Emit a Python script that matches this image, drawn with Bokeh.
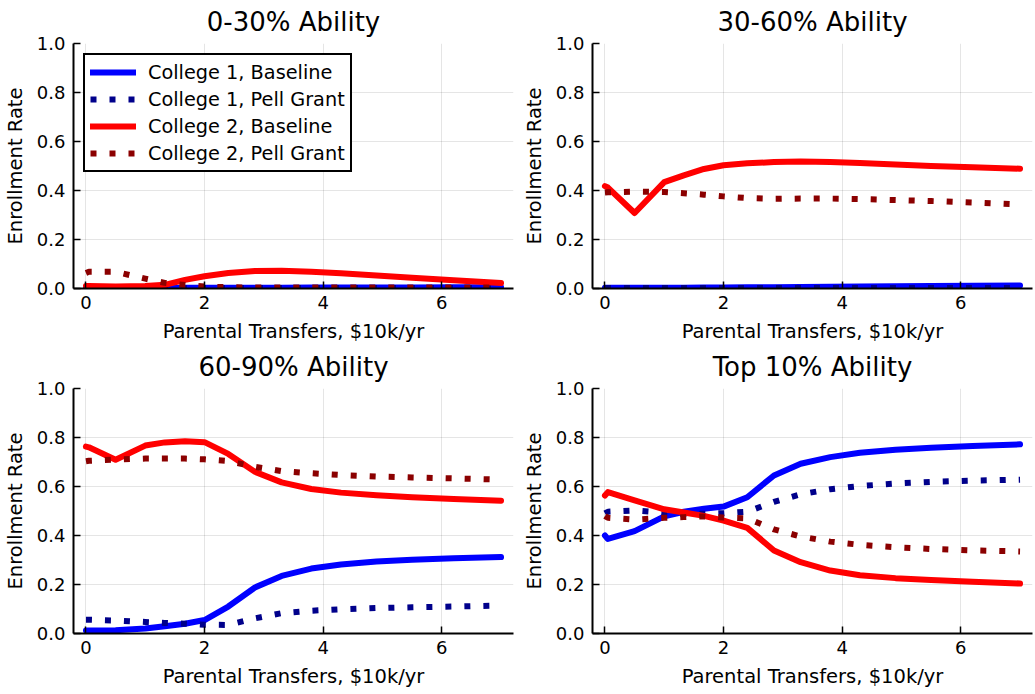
from bokeh.plotting import figure
from bokeh.layouts import column, row
from bokeh.models import Range1d, FixedTicker, Legend, LegendItem
from bokeh.embed import file_html
from bokeh.resources import INLINE

# ---------------- data ----------------
transfers = [0.0, 0.05, 0.5, 1.0, 1.33, 1.67, 2.0, 2.4, 2.85, 3.3, 3.8, 4.3, 4.9, 5.5, 6.2, 7.0]

titles = ["0-30% Ability", "30-60% Ability", "60-90% Ability", "Top 10% Ability"]
series_names = ["College 1, Baseline", "College 1, Pell Grant",
                "College 2, Baseline", "College 2, Pell Grant"]

# 0-30% Ability
p1_c1_base = [0.002, 0.002, 0.002, 0.002, 0.003, 0.003, 0.003, 0.003, 0.003, 0.003, 0.004, 0.004, 0.004, 0.004, 0.005, 0.005]
p1_c1_pell = [0.001, 0.001, 0.001, 0.001, 0.001, 0.001, 0.002, 0.002, 0.002, 0.002, 0.002, 0.002, 0.002, 0.002, 0.002, 0.002]
p1_c2_base = [0.010, 0.010, 0.008, 0.010, 0.015, 0.035, 0.050, 0.063, 0.071, 0.072, 0.068, 0.062, 0.053, 0.044, 0.034, 0.022]
p1_c2_pell = [0.063, 0.068, 0.068, 0.040, 0.023, 0.014, 0.008, 0.005, 0.004, 0.004, 0.004, 0.004, 0.004, 0.004, 0.004, 0.004]

# 30-60% Ability
p2_c1_base = [0.003, 0.003, 0.003, 0.003, 0.003, 0.004, 0.004, 0.005, 0.005, 0.006, 0.007, 0.008, 0.009, 0.010, 0.011, 0.012]
p2_c1_pell = [0.002, 0.002, 0.002, 0.002, 0.002, 0.002, 0.002, 0.002, 0.002, 0.002, 0.002, 0.002, 0.002, 0.002, 0.002, 0.002]
p2_c2_base = [0.418, 0.412, 0.308, 0.434, 0.462, 0.488, 0.503, 0.511, 0.516, 0.518, 0.516, 0.512, 0.506, 0.500, 0.495, 0.489]
p2_c2_pell = [0.392, 0.393, 0.395, 0.394, 0.389, 0.383, 0.376, 0.369, 0.366, 0.367, 0.367, 0.365, 0.361, 0.357, 0.351, 0.343]

# 60-90% Ability
p3_c1_base = [0.012, 0.012, 0.013, 0.020, 0.030, 0.040, 0.055, 0.110, 0.188, 0.235, 0.265, 0.282, 0.294, 0.301, 0.307, 0.312]
p3_c1_pell = [0.056, 0.056, 0.053, 0.047, 0.043, 0.040, 0.036, 0.035, 0.062, 0.083, 0.093, 0.099, 0.104, 0.107, 0.110, 0.114]
p3_c2_base = [0.763, 0.760, 0.709, 0.767, 0.780, 0.785, 0.781, 0.733, 0.660, 0.617, 0.590, 0.575, 0.564, 0.556, 0.549, 0.542]
p3_c2_pell = [0.703, 0.705, 0.710, 0.714, 0.714, 0.714, 0.711, 0.704, 0.680, 0.663, 0.654, 0.647, 0.641, 0.637, 0.633, 0.628]

# Top 10% Ability
p4_c1_base = [0.400, 0.386, 0.418, 0.478, 0.497, 0.509, 0.518, 0.556, 0.645, 0.693, 0.720, 0.738, 0.750, 0.758, 0.765, 0.772]
p4_c1_pell = [0.490, 0.497, 0.502, 0.493, 0.488, 0.489, 0.491, 0.497, 0.537, 0.568, 0.589, 0.602, 0.612, 0.619, 0.624, 0.628]
p4_c2_base = [0.563, 0.577, 0.543, 0.507, 0.494, 0.480, 0.461, 0.431, 0.339, 0.291, 0.257, 0.238, 0.226, 0.218, 0.211, 0.204]
p4_c2_pell = [0.480, 0.472, 0.465, 0.472, 0.475, 0.478, 0.473, 0.470, 0.425, 0.396, 0.375, 0.362, 0.352, 0.345, 0.339, 0.335]

x_ticks = [0, 2, 4, 6]
x_tick_labels = ["0", "2", "4", "6"]
y_ticks = [0.0, 0.2, 0.4, 0.6, 0.8, 1.0]
y_tick_labels = ["0.0", "0.2", "0.4", "0.6", "0.8", "1.0"]

x_label = "Parental Transfers, $10k/yr"
y_label = "Enrollment Rate"

panels = [
    [p1_c1_base, p1_c1_pell, p1_c2_base, p1_c2_pell],
    [p2_c1_base, p2_c1_pell, p2_c2_base, p2_c2_pell],
    [p3_c1_base, p3_c1_pell, p3_c2_base, p3_c2_pell],
    [p4_c1_base, p4_c1_pell, p4_c2_base, p4_c2_pell],
]

colors = ["#0000FF", "#00008B", "#FF0000", "#8B0000"]
dashes = ["solid", "6 13", "solid", "6 13"]

FONT = "DejaVu Sans"

# layout geometry: (width, height, border_left, border_right, border_top, border_bottom)
geoms = [
    (519, 345, 73, 6, 43, 57),
    (514, 345, 73, 1, 43, 57),
    (519, 347, 73, 6, 43, 59),
    (514, 347, 73, 1, 43, 59),
]


def make_panel(idx):
    w, h, bl, br, bt, bb = geoms[idx]
    p = figure(width=w, height=h, output_backend="svg", toolbar_location=None,
               x_range=Range1d(-0.21, 7.21), y_range=Range1d(0.0, 1.0),
               min_border_left=bl, min_border_right=br,
               min_border_top=bt, min_border_bottom=bb,
               title=titles[idx])
    p.outline_line_color = None
    p.background_fill_color = "white"
    p.border_fill_color = "white"

    p.title.text_font = FONT
    p.title.text_font_size = "26px"
    p.title.text_font_style = "normal"
    p.title.align = "center"
    p.title.vertical_align = "top"
    p.title.text_color = "black"
    p.title.standoff = 10

    for ax in (p.xaxis[0], p.yaxis[0]):
        ax.axis_line_color = "black"
        ax.axis_line_width = 2
        ax.major_tick_in = 7
        ax.major_tick_out = 0
        ax.major_tick_line_color = "black"
        ax.major_tick_line_width = 1.5
        ax.minor_tick_line_color = None
        ax.major_label_text_font = FONT
        ax.major_label_text_font_size = "18px"
        ax.major_label_text_color = "black"
        ax.axis_label_text_font = FONT
        ax.axis_label_text_font_size = "19.5px"
        ax.axis_label_text_font_style = "normal"
        ax.axis_label_text_color = "black"

    p.xaxis[0].ticker = FixedTicker(ticks=x_ticks)
    p.xaxis[0].major_label_overrides = {t: l for t, l in zip(x_ticks, x_tick_labels)}
    p.yaxis[0].ticker = FixedTicker(ticks=y_ticks)
    p.yaxis[0].major_label_overrides = {t: l for t, l in zip(y_ticks, y_tick_labels)}
    p.xaxis[0].axis_label = x_label
    p.yaxis[0].axis_label = y_label
    p.xaxis[0].major_label_standoff = 7
    p.xaxis[0].axis_label_standoff = 8
    p.yaxis[0].major_label_standoff = 8
    p.yaxis[0].axis_label_standoff = 7

    p.xgrid[0].ticker = FixedTicker(ticks=x_ticks)
    p.ygrid[0].ticker = FixedTicker(ticks=y_ticks)
    for g in (p.xgrid[0], p.ygrid[0]):
        g.grid_line_color = "black"
        g.grid_line_alpha = 0.1
        g.grid_line_width = 1

    renderers = []
    for s, vals in enumerate(panels[idx]):
        r = p.line(transfers, vals, line_color=colors[s], line_width=6,
                   line_dash=dashes[s],
                   line_cap="round" if dashes[s] == "solid" else "butt",
                   line_join="round")
        renderers.append(r)

    if idx == 0:
        items = [LegendItem(label=series_names[s], renderers=[renderers[s]]) for s in range(4)]
        leg = Legend(items=items, location="top_left")
        leg.margin = 10
        leg.padding = 5
        leg.spacing = 3
        leg.label_height = 24
        leg.glyph_height = 24
        leg.glyph_width = 46
        leg.label_standoff = 12
        leg.label_text_font = FONT
        leg.label_text_font_size = "19.3px"
        leg.label_text_color = "black"
        leg.border_line_color = "black"
        leg.border_line_alpha = 1.0
        leg.border_line_width = 2
        leg.background_fill_color = "white"
        leg.background_fill_alpha = 1.0
        p.add_layout(leg, "center")
    return p


figs = [make_panel(i) for i in range(4)]
layout = column(row(figs[0], figs[1]), row(figs[2], figs[3]))

open("out.html", "w").write(file_html(layout, INLINE))
